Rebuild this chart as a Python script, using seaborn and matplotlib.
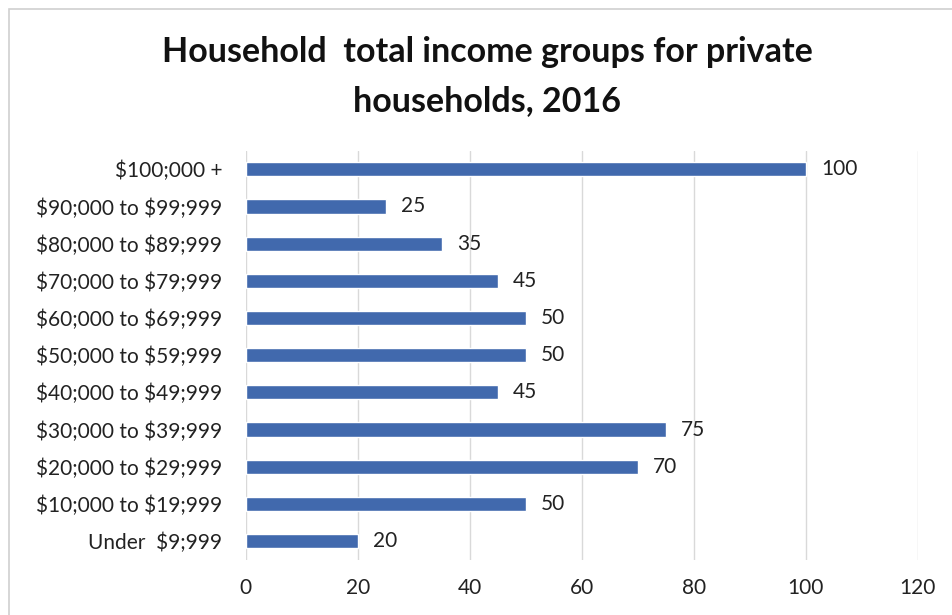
import matplotlib
matplotlib.use("Agg")
import matplotlib.pyplot as plt
import seaborn as sns
import pandas as pd
from matplotlib.patches import Rectangle

categories = [
    "$100;000 +",
    "$90;000 to $99;999",
    "$80;000 to $89;999",
    "$70;000 to $79;999",
    "$60;000 to $69;999",
    "$50;000 to $59;999",
    "$40;000 to $49;999",
    "$30;000 to $39;999",
    "$20;000 to $29;999",
    "$10;000 to $19;999",
    "Under  $9;999",
]
values = [100, 25, 35, 45, 50, 50, 45, 75, 70, 50, 20]
x_ticks = [0, 20, 40, 60, 80, 100, 120]

sns.set_theme(style="white")
plt.rcParams["font.family"] = ["Lato", "DejaVu Sans"]

df = pd.DataFrame({"group": categories, "count": values})

fig = plt.figure(figsize=(9.53, 6.15), dpi=100)
ax = fig.add_axes([0.258, 0.090, 0.705, 0.665])

sns.barplot(data=df, y="group", x="count", orient="h", color="#4169ad",
            width=0.38, saturation=1, ax=ax)

ax.set_xlim(0, 120)
ax.set_ylim(len(categories) - 0.5, -0.5)
ax.set_xticks(x_ticks)
ax.set_xticklabels([str(t) for t in x_ticks], fontsize=15, color="#222222")
ax.set_yticks(range(len(categories)))
ax.set_yticklabels([c.replace("$", r"\$") for c in categories], fontsize=15, color="#222222")
ax.tick_params(axis="both", length=0)
ax.tick_params(axis="x", pad=13)
ax.tick_params(axis="y", pad=17)
ax.set_xlabel("")
ax.set_ylabel("")

ax.xaxis.grid(True, color="#d9d9d9", linewidth=1)
ax.set_axisbelow(True)
for s in ax.spines.values():
    s.set_visible(False)

for i, v in enumerate(values):
    ax.text(v + 2.7, i, str(v), va="center", ha="left", fontsize=15, color="#222222")

fig.text(0.511, 0.915, "Household  total income groups for private", ha="center",
         va="center", fontsize=24.5, fontweight="bold", color="#111111")
fig.text(0.511, 0.835, "households, 2016", ha="center", va="center",
         fontsize=24.5, fontweight="bold", color="#111111")

fig.patches.append(Rectangle((0.009, -0.01), 1.0, 0.995, transform=fig.transFigure,
                             fill=False, edgecolor="#d0d0d0", linewidth=1.2))

fig.savefig("out.png", dpi=100, facecolor="white")
